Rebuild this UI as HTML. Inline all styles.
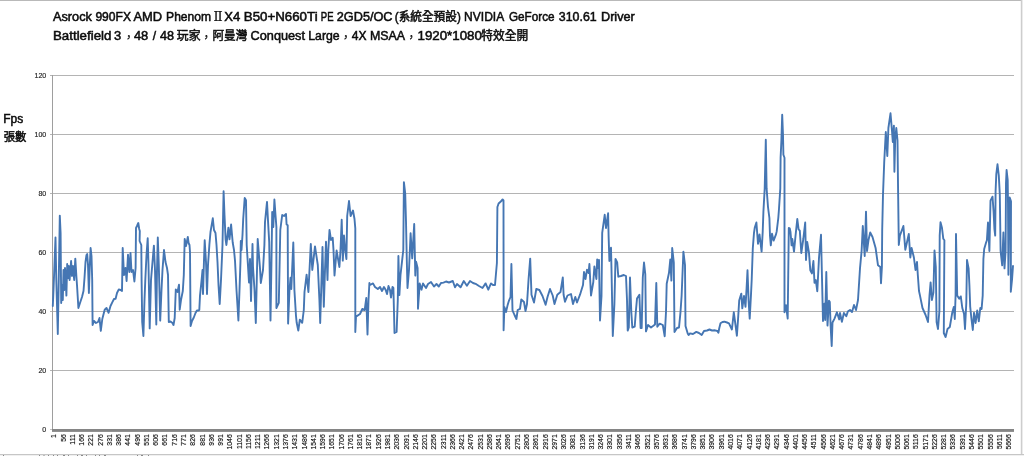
<!DOCTYPE html>
<html lang="zh-Hant"><head><meta charset="utf-8"><title>Fps chart</title>
<style>
html,body{margin:0;padding:0;background:#fff;}
body{width:1024px;height:456px;overflow:hidden;position:relative;font-family:"Liberation Sans","Noto Sans CJK TC",sans-serif;}
svg{position:absolute;left:0;top:0;display:block;}
.t{font-family:"Liberation Sans","Noto Sans CJK TC",sans-serif;font-weight:normal;font-size:12px;fill:#0c0c0c;stroke:#0c0c0c;stroke-width:0.5px;}
.rn{font-family:"DejaVu Serif","Liberation Serif",serif;stroke-width:0;}
.yl{font-family:"Liberation Sans",sans-serif;font-size:7px;fill:#222;stroke:#222;stroke-width:0.15px;text-anchor:end;}
.xl{font-family:"Liberation Sans",sans-serif;font-size:6.9px;fill:#0d0d0d;stroke:#0d0d0d;stroke-width:0.14px;text-anchor:end;}
</style></head><body>
<svg width="1024" height="456" viewBox="0 0 1024 456">
<rect x="0" y="0" width="1024" height="456" fill="#ffffff"/>
<rect x="0" y="0" width="1022" height="1" fill="#b9b9b9"/>
<rect x="1020.8" y="0" width="1.6" height="456" fill="#cdcdcd"/>
<rect x="0" y="454" width="1024" height="1" fill="#c6c6c6"/>
<rect x="0" y="455" width="1024" height="1" fill="#f0f0f0"/>
<g fill="#8a8a8a"><rect x="3" y="455" width="1" height="1"/><rect x="39" y="455" width="1" height="1"/><rect x="43.5" y="455" width="1" height="1"/><rect x="48" y="455" width="1" height="1"/><rect x="53" y="455" width="1" height="1"/><rect x="57" y="455" width="1" height="1"/><rect x="63" y="455" width="2" height="1"/><rect x="68" y="455" width="1" height="1"/><rect x="77" y="455" width="1" height="1"/><rect x="81" y="455" width="2" height="1"/><rect x="86" y="455" width="1" height="1"/><rect x="95" y="455" width="1" height="1"/><rect x="99" y="455" width="1" height="1"/><rect x="104" y="455" width="2" height="1"/><rect x="137" y="455" width="1" height="1"/><rect x="141" y="455" width="2" height="1"/><rect x="148" y="455" width="1" height="1"/></g>

<g style="filter:blur(0.28px)">
<text class="t" x="53.0" y="20.7" textLength="38.9" lengthAdjust="spacingAndGlyphs">Asrock</text>
<text class="t" x="95.4" y="20.7" textLength="35.6" lengthAdjust="spacingAndGlyphs">990FX</text>
<text class="t" x="133.5" y="20.7" textLength="28.7" lengthAdjust="spacingAndGlyphs">AMD</text>
<text class="t" x="166.1" y="20.7" textLength="44.9" lengthAdjust="spacingAndGlyphs">Phenom</text>
<text class="t rn" x="213.2" y="20.7" textLength="9.6" lengthAdjust="spacingAndGlyphs">Ⅱ</text>
<text class="t" x="224.3" y="20.7" textLength="16.0" lengthAdjust="spacingAndGlyphs">X4</text>
<text class="t" x="243.8" y="20.7" textLength="73.8" lengthAdjust="spacingAndGlyphs">B50+N660Ti</text>
<text class="t" x="320.8" y="20.7" textLength="12.7" lengthAdjust="spacingAndGlyphs">PE</text>
<text class="t" x="336.8" y="20.7" textLength="55.7" lengthAdjust="spacingAndGlyphs">2GD5/OC</text>
<text class="t" x="394.8" y="20.7" textLength="66.0" lengthAdjust="spacingAndGlyphs">(系統全預設)</text>
<text class="t" x="464.1" y="20.7" textLength="40.1" lengthAdjust="spacingAndGlyphs">NVIDIA</text>
<text class="t" x="509.0" y="20.7" textLength="45.5" lengthAdjust="spacingAndGlyphs">GeForce</text>
<text class="t" x="558.8" y="20.7" textLength="37.9" lengthAdjust="spacingAndGlyphs">310.61</text>
<text class="t" x="601.0" y="20.7" textLength="33.8" lengthAdjust="spacingAndGlyphs">Driver</text>
<text class="t" x="53.0" y="39.7" textLength="58.4" lengthAdjust="spacingAndGlyphs">Battlefield</text>
<text class="t" x="114.0" y="39.7" textLength="7.2" lengthAdjust="spacingAndGlyphs">3</text>
<text class="t" x="133.9" y="39.7" textLength="14.3" lengthAdjust="spacingAndGlyphs">48</text>
<text class="t" x="159.9" y="39.7" textLength="14.0" lengthAdjust="spacingAndGlyphs">48</text>
<text class="t" x="176.8" y="39.7" textLength="23.7" lengthAdjust="spacingAndGlyphs">玩家</text>
<text class="t" x="212.5" y="39.7" textLength="34.8" lengthAdjust="spacingAndGlyphs">阿曼灣</text>
<text class="t" x="250.6" y="39.7" textLength="54.4" lengthAdjust="spacingAndGlyphs">Conquest</text>
<text class="t" x="308.3" y="39.7" textLength="31.4" lengthAdjust="spacingAndGlyphs">Large</text>
<text class="t" x="351.8" y="39.7" textLength="14.7" lengthAdjust="spacingAndGlyphs">4X</text>
<text class="t" x="370.0" y="39.7" textLength="35.1" lengthAdjust="spacingAndGlyphs">MSAA</text>
<text class="t" x="417.5" y="39.7" textLength="64.4" lengthAdjust="spacingAndGlyphs">1920*1080</text>
<text class="t" x="481.3" y="39.7" textLength="46.9" lengthAdjust="spacingAndGlyphs">特效全開</text>
<text class="t" x="122.7" y="41.7" style="stroke-width:0.15px">，</text>
<text class="t" x="200.2" y="41.7" style="stroke-width:0.15px">，</text>
<text class="t" x="339.7" y="41.7" style="stroke-width:0.15px">，</text>
<text class="t" x="405.2" y="41.7" style="stroke-width:0.15px">，</text>
<text class="t" x="154.5" y="39.7" text-anchor="middle">/</text>
<text class="t" x="3.3" y="122.5" textLength="20" lengthAdjust="spacingAndGlyphs">Fps</text>
<text class="t" x="3.8" y="141.3" textLength="22.6" lengthAdjust="spacingAndGlyphs" style="font-size:11px">張數</text>
</g>
<rect x="50" y="75.0" width="964" height="1" fill="#b4b4b4"/>
<rect x="50" y="134.0" width="964" height="1" fill="#b4b4b4"/>
<rect x="50" y="193.0" width="964" height="1" fill="#b4b4b4"/>
<rect x="50" y="252.0" width="964" height="1" fill="#b4b4b4"/>
<rect x="50" y="311.0" width="964" height="1" fill="#b4b4b4"/>
<rect x="50" y="370.0" width="964" height="1" fill="#b4b4b4"/>
<rect x="52" y="75" width="1" height="356" fill="#9e9e9e"/>
<rect x="50" y="429" width="3" height="1" fill="#c4c4c4"/>
<rect x="52" y="429" width="962" height="2.9" fill="#858585"/>
<g style="filter:blur(0.25px)">
<text class="yl" x="46.2" y="78.0">120</text>
<text class="yl" x="46.2" y="137.0">100</text>
<text class="yl" x="46.2" y="196.0">80</text>
<text class="yl" x="46.2" y="255.0">60</text>
<text class="yl" x="46.2" y="314.0">40</text>
<text class="yl" x="46.2" y="373.0">20</text>
<text class="yl" x="46.2" y="432.0">0</text>
<text class="xl" transform="translate(56.25,434.2) rotate(-90)">1</text>
<text class="xl" transform="translate(65.52,434.2) rotate(-90)">56</text>
<text class="xl" transform="translate(74.79,434.2) rotate(-90)">111</text>
<text class="xl" transform="translate(84.06,434.2) rotate(-90)">166</text>
<text class="xl" transform="translate(93.33,434.2) rotate(-90)">221</text>
<text class="xl" transform="translate(102.60,434.2) rotate(-90)">276</text>
<text class="xl" transform="translate(111.87,434.2) rotate(-90)">331</text>
<text class="xl" transform="translate(121.14,434.2) rotate(-90)">386</text>
<text class="xl" transform="translate(130.41,434.2) rotate(-90)">441</text>
<text class="xl" transform="translate(139.68,434.2) rotate(-90)">496</text>
<text class="xl" transform="translate(148.95,434.2) rotate(-90)">551</text>
<text class="xl" transform="translate(158.22,434.2) rotate(-90)">606</text>
<text class="xl" transform="translate(167.49,434.2) rotate(-90)">661</text>
<text class="xl" transform="translate(176.76,434.2) rotate(-90)">716</text>
<text class="xl" transform="translate(186.03,434.2) rotate(-90)">771</text>
<text class="xl" transform="translate(195.30,434.2) rotate(-90)">826</text>
<text class="xl" transform="translate(204.57,434.2) rotate(-90)">881</text>
<text class="xl" transform="translate(213.84,434.2) rotate(-90)">936</text>
<text class="xl" transform="translate(223.11,434.2) rotate(-90)">991</text>
<text class="xl" transform="translate(232.38,434.2) rotate(-90)">1046</text>
<text class="xl" transform="translate(241.65,434.2) rotate(-90)">1101</text>
<text class="xl" transform="translate(250.92,434.2) rotate(-90)">1156</text>
<text class="xl" transform="translate(260.19,434.2) rotate(-90)">1211</text>
<text class="xl" transform="translate(269.46,434.2) rotate(-90)">1266</text>
<text class="xl" transform="translate(278.73,434.2) rotate(-90)">1321</text>
<text class="xl" transform="translate(288.00,434.2) rotate(-90)">1376</text>
<text class="xl" transform="translate(297.27,434.2) rotate(-90)">1431</text>
<text class="xl" transform="translate(306.54,434.2) rotate(-90)">1486</text>
<text class="xl" transform="translate(315.81,434.2) rotate(-90)">1541</text>
<text class="xl" transform="translate(325.08,434.2) rotate(-90)">1596</text>
<text class="xl" transform="translate(334.35,434.2) rotate(-90)">1651</text>
<text class="xl" transform="translate(343.62,434.2) rotate(-90)">1706</text>
<text class="xl" transform="translate(352.89,434.2) rotate(-90)">1761</text>
<text class="xl" transform="translate(362.16,434.2) rotate(-90)">1816</text>
<text class="xl" transform="translate(371.43,434.2) rotate(-90)">1871</text>
<text class="xl" transform="translate(380.70,434.2) rotate(-90)">1926</text>
<text class="xl" transform="translate(389.97,434.2) rotate(-90)">1981</text>
<text class="xl" transform="translate(399.24,434.2) rotate(-90)">2036</text>
<text class="xl" transform="translate(408.51,434.2) rotate(-90)">2091</text>
<text class="xl" transform="translate(417.78,434.2) rotate(-90)">2146</text>
<text class="xl" transform="translate(427.05,434.2) rotate(-90)">2201</text>
<text class="xl" transform="translate(436.32,434.2) rotate(-90)">2256</text>
<text class="xl" transform="translate(445.59,434.2) rotate(-90)">2311</text>
<text class="xl" transform="translate(454.86,434.2) rotate(-90)">2366</text>
<text class="xl" transform="translate(464.13,434.2) rotate(-90)">2421</text>
<text class="xl" transform="translate(473.40,434.2) rotate(-90)">2476</text>
<text class="xl" transform="translate(482.67,434.2) rotate(-90)">2531</text>
<text class="xl" transform="translate(491.94,434.2) rotate(-90)">2586</text>
<text class="xl" transform="translate(501.21,434.2) rotate(-90)">2641</text>
<text class="xl" transform="translate(510.48,434.2) rotate(-90)">2696</text>
<text class="xl" transform="translate(519.75,434.2) rotate(-90)">2751</text>
<text class="xl" transform="translate(529.02,434.2) rotate(-90)">2806</text>
<text class="xl" transform="translate(538.29,434.2) rotate(-90)">2861</text>
<text class="xl" transform="translate(547.56,434.2) rotate(-90)">2916</text>
<text class="xl" transform="translate(556.83,434.2) rotate(-90)">2971</text>
<text class="xl" transform="translate(566.10,434.2) rotate(-90)">3026</text>
<text class="xl" transform="translate(575.37,434.2) rotate(-90)">3081</text>
<text class="xl" transform="translate(584.64,434.2) rotate(-90)">3136</text>
<text class="xl" transform="translate(593.91,434.2) rotate(-90)">3191</text>
<text class="xl" transform="translate(603.18,434.2) rotate(-90)">3246</text>
<text class="xl" transform="translate(612.45,434.2) rotate(-90)">3301</text>
<text class="xl" transform="translate(621.72,434.2) rotate(-90)">3356</text>
<text class="xl" transform="translate(630.99,434.2) rotate(-90)">3411</text>
<text class="xl" transform="translate(640.26,434.2) rotate(-90)">3466</text>
<text class="xl" transform="translate(649.53,434.2) rotate(-90)">3521</text>
<text class="xl" transform="translate(658.80,434.2) rotate(-90)">3576</text>
<text class="xl" transform="translate(668.07,434.2) rotate(-90)">3631</text>
<text class="xl" transform="translate(677.34,434.2) rotate(-90)">3686</text>
<text class="xl" transform="translate(686.61,434.2) rotate(-90)">3741</text>
<text class="xl" transform="translate(695.88,434.2) rotate(-90)">3796</text>
<text class="xl" transform="translate(705.15,434.2) rotate(-90)">3851</text>
<text class="xl" transform="translate(714.42,434.2) rotate(-90)">3906</text>
<text class="xl" transform="translate(723.69,434.2) rotate(-90)">3961</text>
<text class="xl" transform="translate(732.96,434.2) rotate(-90)">4016</text>
<text class="xl" transform="translate(742.23,434.2) rotate(-90)">4071</text>
<text class="xl" transform="translate(751.50,434.2) rotate(-90)">4126</text>
<text class="xl" transform="translate(760.77,434.2) rotate(-90)">4181</text>
<text class="xl" transform="translate(770.04,434.2) rotate(-90)">4236</text>
<text class="xl" transform="translate(779.31,434.2) rotate(-90)">4291</text>
<text class="xl" transform="translate(788.58,434.2) rotate(-90)">4346</text>
<text class="xl" transform="translate(797.85,434.2) rotate(-90)">4401</text>
<text class="xl" transform="translate(807.12,434.2) rotate(-90)">4456</text>
<text class="xl" transform="translate(816.39,434.2) rotate(-90)">4511</text>
<text class="xl" transform="translate(825.66,434.2) rotate(-90)">4566</text>
<text class="xl" transform="translate(834.93,434.2) rotate(-90)">4621</text>
<text class="xl" transform="translate(844.20,434.2) rotate(-90)">4676</text>
<text class="xl" transform="translate(853.47,434.2) rotate(-90)">4731</text>
<text class="xl" transform="translate(862.74,434.2) rotate(-90)">4786</text>
<text class="xl" transform="translate(872.01,434.2) rotate(-90)">4841</text>
<text class="xl" transform="translate(881.28,434.2) rotate(-90)">4896</text>
<text class="xl" transform="translate(890.55,434.2) rotate(-90)">4951</text>
<text class="xl" transform="translate(899.82,434.2) rotate(-90)">5006</text>
<text class="xl" transform="translate(909.09,434.2) rotate(-90)">5061</text>
<text class="xl" transform="translate(918.36,434.2) rotate(-90)">5116</text>
<text class="xl" transform="translate(927.63,434.2) rotate(-90)">5171</text>
<text class="xl" transform="translate(936.90,434.2) rotate(-90)">5226</text>
<text class="xl" transform="translate(946.17,434.2) rotate(-90)">5281</text>
<text class="xl" transform="translate(955.44,434.2) rotate(-90)">5336</text>
<text class="xl" transform="translate(964.71,434.2) rotate(-90)">5391</text>
<text class="xl" transform="translate(973.98,434.2) rotate(-90)">5446</text>
<text class="xl" transform="translate(983.25,434.2) rotate(-90)">5501</text>
<text class="xl" transform="translate(992.52,434.2) rotate(-90)">5556</text>
<text class="xl" transform="translate(1001.79,434.2) rotate(-90)">5611</text>
<text class="xl" transform="translate(1011.06,434.2) rotate(-90)">5666</text>
</g>
<polyline fill="none" stroke="#4576b3" stroke-width="1.9" stroke-linejoin="round" stroke-linecap="round" points="52.8,306.0 53.5,290.0 55.5,237.5 56.3,280.0 57.8,334.0 58.6,290.0 59.8,215.6 60.6,233.0 61.2,303.0 62.0,285.0 62.8,300.0 63.5,270.0 64.3,290.0 65.0,268.0 65.8,282.0 66.4,295.6 67.2,264.0 68.0,278.0 68.8,266.0 69.6,280.0 71.1,261.0 72.0,276.0 73.0,266.0 74.2,280.0 75.3,258.6 76.3,275.0 77.0,285.0 78.4,308.0 80.0,303.0 82.0,297.0 83.5,291.0 84.5,278.0 85.5,262.0 86.5,255.0 87.2,254.0 88.0,265.0 88.9,293.0 89.7,268.0 90.6,248.0 91.5,256.0 92.2,280.0 92.6,325.0 94.0,321.0 96.0,323.0 98.0,322.0 99.5,318.0 100.8,330.8 102.3,319.0 104.7,309.7 106.5,308.0 108.6,312.8 110.5,306.0 112.5,301.9 114.0,299.0 115.6,298.8 117.0,293.0 118.8,289.4 120.5,290.0 122.0,291.0 122.7,248.0 124.0,275.0 125.5,268.0 126.6,281.0 128.0,254.7 129.3,272.0 130.5,253.0 131.5,272.0 133.0,270.0 134.4,281.5 135.6,268.0 136.0,228.0 137.0,226.0 138.3,223.0 139.2,229.0 139.8,231.0 139.6,241.0 141.3,245.0 141.6,280.0 142.2,322.0 143.4,336.0 144.5,300.0 145.3,280.0 146.5,255.0 147.7,238.3 148.5,265.0 149.7,328.4 151.0,280.0 152.5,262.0 153.9,245.6 155.0,270.0 156.3,324.5 157.0,270.0 157.8,237.5 158.8,265.0 160.2,320.6 161.5,290.0 162.5,270.0 164.0,250.0 165.5,262.0 167.0,268.0 168.0,275.0 168.8,322.0 170.5,321.5 172.5,323.0 173.5,325.0 174.7,318.0 175.8,289.4 177.5,292.0 179.0,284.7 179.7,309.7 181.0,300.0 182.8,291.0 183.8,275.0 184.7,239.0 186.0,246.0 187.8,237.0 188.6,243.0 189.5,245.0 190.0,252.0 190.6,326.0 192.0,321.0 193.8,317.5 195.5,313.0 196.9,310.5 198.5,310.5 199.3,310.0 200.0,295.6 201.6,280.0 202.5,270.0 203.0,294.0 204.0,260.0 204.7,240.3 206.0,262.0 207.0,294.0 208.0,265.0 209.4,244.5 210.5,232.0 212.8,218.3 214.0,230.0 215.5,233.0 216.5,245.0 217.5,262.0 218.5,285.0 219.7,304.0 221.0,280.0 222.5,245.0 223.6,191.3 224.5,215.0 225.6,239.4 226.4,245.0 228.4,227.7 229.5,239.4 231.1,224.5 232.7,242.5 234.0,250.0 235.0,260.6 236.5,290.0 238.4,320.5 239.5,290.0 240.5,260.6 240.8,241.0 241.5,250.0 242.5,235.0 243.2,219.0 244.7,198.0 246.0,200.3 246.7,245.0 249.0,282.5 250.0,259.0 251.0,301.0 252.5,244.0 253.0,267.0 254.5,290.0 255.8,323.0 257.7,239.0 260.0,268.4 260.8,283.0 263.0,270.0 264.4,245.0 265.0,222.0 267.0,201.9 268.0,220.6 269.2,242.0 270.5,320.5 271.5,260.0 272.2,212.0 273.3,227.0 274.4,199.5 275.5,215.0 276.4,227.0 276.4,308.0 278.8,302.8 279.5,270.0 280.3,230.0 282.2,215.0 284.0,216.0 286.0,214.0 286.6,224.5 287.7,225.3 288.1,323.6 289.5,290.0 290.5,277.8 291.3,289.0 293.3,242.5 294.4,290.0 296.0,316.0 296.7,322.8 298.3,330.6 299.8,319.7 302.2,322.8 303.8,310.0 304.5,292.0 306.6,274.7 308.4,292.0 310.8,244.0 312.3,270.0 315.0,246.4 317.8,265.0 319.4,299.7 320.2,323.0 321.5,280.0 322.5,247.0 323.8,306.7 325.0,270.0 326.0,241.7 327.5,280.0 328.3,250.0 329.5,230.0 331.0,240.0 332.7,237.8 333.5,250.0 334.5,275.5 336.6,250.5 339.4,267.0 340.5,250.0 341.7,219.8 342.8,260.6 344.0,235.5 345.2,250.0 346.4,259.0 347.2,216.0 349.0,201.0 350.6,216.0 353.0,210.5 354.5,219.0 355.3,228.4 355.3,332.0 356.0,316.6 360.0,314.0 362.3,309.0 364.7,310.0 366.3,298.0 367.5,334.5 368.5,300.0 369.4,283.0 370.0,285.0 373.0,283.4 375.0,287.0 377.8,289.0 380.0,287.0 382.0,291.0 384.0,287.0 385.6,289.7 387.0,294.0 388.5,286.0 390.0,290.0 391.0,297.5 392.5,287.0 393.4,288.0 394.5,333.0 396.6,332.0 397.8,300.0 398.4,256.0 399.4,295.0 400.5,275.0 402.0,261.6 403.3,250.0 403.9,182.2 405.2,193.4 406.0,221.5 406.8,260.0 407.5,288.0 409.0,270.0 410.6,233.3 412.2,258.4 414.2,224.0 415.3,275.6 416.0,261.6 417.6,268.0 418.0,308.8 419.7,283.4 421.5,289.7 423.0,283.4 426.0,288.0 428.0,284.0 431.0,282.0 434.0,286.5 436.5,284.0 438.8,286.5 441.0,283.0 443.5,282.6 446.0,281.5 449.0,282.5 452.8,281.0 455.0,287.3 457.0,284.0 460.6,287.3 463.8,281.0 466.9,285.8 470.0,281.0 473.0,283.0 476.3,284.2 479.0,286.0 482.5,288.0 485.6,283.4 488.3,289.7 491.0,283.4 493.0,285.0 495.0,285.0 496.9,263.0 497.4,207.0 498.6,203.5 500.8,201.5 502.6,199.5 503.5,200.5 503.6,300.0 503.6,330.3 504.4,307.0 506.0,312.0 507.5,305.6 509.0,300.6 510.5,297.0 511.4,264.0 512.5,310.3 514.5,315.0 516.4,319.0 517.7,310.0 520.0,308.8 521.3,299.5 524.0,302.0 525.5,311.0 527.0,304.0 528.6,278.8 530.2,258.6 531.5,294.7 534.0,302.5 536.3,289.0 539.4,290.0 542.5,296.0 545.6,304.8 547.5,297.0 550.0,289.0 552.7,295.5 554.5,304.0 557.3,294.7 560.5,292.0 562.8,277.5 563.6,294.7 565.0,301.7 567.5,295.5 571.0,294.0 573.0,304.0 575.3,297.0 577.0,302.5 580.0,294.7 583.0,285.0 584.0,272.0 585.5,279.0 587.0,269.7 588.6,273.0 589.4,264.0 591.0,295.5 593.3,282.0 594.4,266.4 596.4,279.0 597.2,259.4 598.3,268.0 599.0,260.0 600.0,320.5 601.5,296.0 602.2,232.8 604.7,214.8 606.0,228.0 608.1,213.3 608.6,236.0 609.4,261.0 611.0,247.7 611.5,270.0 612.8,336.0 614.4,304.0 615.5,259.0 617.2,262.5 618.3,276.7 621.0,276.0 623.8,275.0 626.0,276.0 627.0,300.0 627.7,330.6 628.8,327.5 630.0,277.5 631.3,312.0 632.3,327.5 634.7,326.7 635.8,312.0 637.0,298.6 639.4,294.7 640.6,328.0 641.7,328.0 642.8,277.5 644.0,262.5 645.3,274.4 646.0,331.4 648.0,325.0 651.0,327.5 653.0,326.0 655.0,324.4 656.3,283.0 657.3,326.7 659.7,323.6 662.8,325.0 664.7,336.3 666.0,312.0 666.7,283.8 669.0,272.8 670.3,259.4 671.4,280.6 672.2,248.0 673.8,262.5 674.5,332.0 677.0,328.0 679.0,327.5 680.5,312.0 681.6,296.0 683.4,251.6 685.0,265.0 685.5,326.0 687.8,333.8 688.6,335.0 690.0,333.4 693.0,334.0 696.3,331.9 699.0,333.0 701.7,335.0 704.0,331.0 707.0,330.5 709.5,329.5 712.0,330.5 715.0,330.3 717.3,331.0 718.4,332.7 719.3,328.0 720.5,323.3 722.5,322.0 724.4,321.7 727.0,322.5 729.0,323.3 731.9,329.5 733.8,312.3 735.5,325.0 736.9,335.8 738.0,320.0 739.2,300.6 741.3,293.6 742.3,308.4 744.0,296.0 745.5,306.9 746.6,288.0 747.5,270.3 748.6,300.6 749.7,318.6 751.0,294.4 751.7,279.7 752.8,248.4 754.0,232.8 754.8,227.5 756.4,222.5 758.0,243.8 759.5,234.4 761.6,251.6 762.7,232.0 763.4,212.0 764.7,188.4 765.8,139.8 766.6,188.4 768.0,207.0 769.4,218.0 770.0,236.0 770.8,245.3 772.0,233.8 773.6,240.6 776.0,234.4 776.7,231.4 778.3,218.0 779.0,208.8 780.3,188.4 780.6,157.8 781.4,140.6 782.2,114.8 783.0,135.0 783.4,154.7 784.5,157.8 784.5,312.3 786.0,305.3 787.7,318.6 788.8,228.0 789.7,228.3 790.5,232.0 791.6,245.3 792.3,239.0 794.0,251.6 795.5,236.0 797.3,219.0 798.6,229.4 799.8,230.6 801.3,253.0 803.3,239.0 805.2,222.5 806.0,260.0 807.2,242.0 809.0,253.0 810.3,270.3 811.9,273.4 813.4,261.0 814.5,282.8 815.8,280.0 817.3,291.3 819.0,257.8 821.0,234.8 821.6,261.0 823.0,321.0 824.4,303.8 825.2,320.0 826.3,272.0 827.5,325.6 829.0,300.6 829.8,302.0 830.6,325.6 831.7,346.0 832.5,322.5 834.5,318.6 836.9,312.3 839.2,319.4 840.0,313.0 841.9,321.7 843.9,313.0 846.3,316.3 847.8,311.6 850.0,310.0 852.0,312.0 854.0,305.0 856.0,310.0 858.0,300.0 860.0,268.4 861.6,251.0 862.8,226.0 864.7,256.0 866.0,211.6 867.0,251.0 868.5,240.0 870.2,232.5 872.5,237.0 875.6,248.0 878.0,265.3 880.3,267.0 881.0,283.3 881.9,267.0 882.2,230.0 883.0,194.4 884.2,162.5 885.8,132.0 887.3,156.0 888.4,128.0 890.5,113.3 892.0,131.0 892.8,142.0 893.9,125.8 894.4,171.7 895.2,140.0 896.3,128.0 897.5,140.6 898.0,183.4 898.8,245.0 899.9,235.6 903.4,226.0 905.3,249.7 908.8,234.0 910.3,257.5 911.6,248.0 913.9,257.5 915.5,270.0 917.0,262.0 917.8,274.7 919.0,291.0 920.0,295.6 922.5,308.0 925.6,315.0 928.0,322.0 929.5,295.6 930.6,282.4 931.9,300.0 933.4,292.5 934.5,250.5 935.8,267.0 936.6,322.0 938.0,329.0 939.4,311.0 939.7,235.6 940.5,222.3 942.0,228.0 943.3,238.8 944.4,240.3 943.8,333.0 945.6,337.0 947.5,329.0 949.8,327.0 952.2,312.8 953.8,307.0 954.8,319.0 955.6,295.0 956.0,234.0 957.2,295.6 959.2,298.8 960.8,296.4 962.3,308.0 964.0,313.6 965.0,329.0 966.3,303.0 967.0,260.0 968.6,268.4 969.4,285.0 970.2,306.6 971.3,317.5 972.8,330.0 974.0,312.8 975.6,323.0 977.2,310.5 978.8,321.4 980.3,308.0 981.6,309.0 982.7,295.6 983.4,259.0 984.2,249.0 985.8,243.4 986.9,240.3 988.0,222.5 989.4,251.0 990.5,200.6 992.5,196.7 993.6,211.6 994.4,228.8 995.2,235.6 995.6,191.0 996.3,174.0 997.5,164.3 998.8,175.6 999.8,194.4 1000.6,251.0 1002.2,265.3 1003.4,232.5 1004.5,268.4 1005.6,251.0 1006.0,183.4 1006.6,170.0 1007.7,180.0 1008.0,203.8 1008.4,274.7 1009.7,197.5 1011.0,201.4 1010.8,291.7 1012.0,280.0 1013.0,266.0"/>
</svg></body></html>
